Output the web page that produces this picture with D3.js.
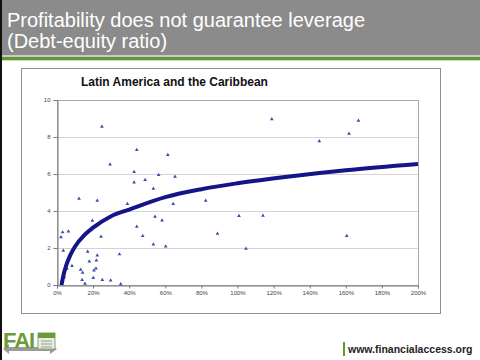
<!DOCTYPE html>
<html><head><meta charset="utf-8">
<script src="https://cdn.jsdelivr.net/npm/d3@7/dist/d3.min.js"></script>
<style>
html,body{margin:0;padding:0;background:#fff;}
svg{display:block;font-family:"Liberation Sans",Arial,sans-serif;}
</style></head>
<body>
<svg id="c" width="480" height="360"></svg>
<script>
// ---- data ----
const slideTitle = ["Profitability does not guarantee leverage", "(Debt-equity ratio)"];
const chartTitle = "Latin America and the Caribbean";
const footerText = "www.financialaccess.org";
const xTickValues = [0, 20, 40, 60, 80, 100, 120, 140, 160, 180, 200];
const xTickLabels = ["0%", "20%", "40%", "60%", "80%", "100%", "120%", "140%", "160%", "180%", "200%"];
const yTickValues = [0, 2, 4, 6, 8, 10];
// profitability (%) and debt-equity ratio of each institution
const pointX = [24.9, 44.2, 61.4, 29.4, 42.7, 56.3, 42.7, 48.8, 53.4, 65.4, 119, 167, 161.8, 145.3,
  12.2, 22.3, 39, 82.4, 64.4, 54.3, 58.2, 19.6, 44.2, 3.1, 6.3, 2.2, 24.4, 47.5, 88.9, 53.4, 60.2, 3.5,
  100.8, 114.1, 104.7, 160.5,
  17, 22.3, 34.6, 17.9, 21.8, 8.3, 5.5, 13.1, 14.2, 20.5, 21.6, 13.9, 20.1, 25.1, 29.7, 15.5, 35.3, 4];
const pointY = [8.56, 7.30, 7.03, 6.52, 6.11, 5.95, 5.55, 5.68, 5.21, 5.86, 8.96, 8.88, 8.18, 7.78,
  4.67, 4.56, 4.38, 4.56, 4.38, 3.69, 3.49, 3.48, 3.15, 2.85, 2.90, 2.58, 2.61, 2.65, 2.78, 2.2, 2.09, 1.86,
  3.73, 3.75, 1.96, 2.65,
  1.80, 1.60, 1.66, 1.28, 1.33, 1.03, 0.88, 0.83, 0.67, 0.79, 0.9, 0.27, 0.38, 0.27, 0.25, 0.07, 0.05, 0.42];
// trendline
const trendX = [2.5, 3.5, 5, 7.5, 10, 15, 20, 30, 40, 60, 80, 100, 130, 160, 200];
const trendY = [0, 0.5, 1.03, 1.64, 2.08, 2.68, 3.1, 3.72, 4.08, 4.75, 5.18, 5.5, 5.88, 6.2, 6.54];

// ---- drawing ----
const svg = d3.select("#c");
// header
svg.append("rect").attr("x",0).attr("y",0).attr("width",480).attr("height",55).attr("fill","#8b8b8b");
svg.append("rect").attr("x",0).attr("y",55).attr("width",480).attr("height",2).attr("fill","#c9c9c9");
svg.append("rect").attr("x",0).attr("y",57).attr("width",480).attr("height",3).attr("fill","#5f9a2c");
svg.append("rect").attr("x",0).attr("y",60).attr("width",480).attr("height",1).attr("fill","#cfe0bd");
svg.append("rect").attr("x",0).attr("y",0).attr("width",2).attr("height",360).attr("fill","#111");
svg.selectAll("text.st").data(slideTitle).join("text").attr("class","st")
  .attr("x",7).attr("y",(d,i)=>27+i*21).attr("fill","#fff").attr("font-size",20).text(d=>d);

// chart box
svg.append("rect").attr("x",21.5).attr("y",68.5).attr("width",419).attr("height",245)
  .attr("fill","#fff").attr("stroke","#8f8f8f");
svg.append("text").attr("x",81).attr("y",86).attr("font-size",12).attr("font-weight","bold")
  .attr("fill","#111").text(chartTitle);

const x = d3.scaleLinear().domain([0,200]).range([57,418]);
const y = d3.scaleLinear().domain([0,10]).range([285,100]);

// grid
svg.append("g").selectAll("line").data(yTickValues.filter(v=>v>0 && v<10)).join("line")
  .attr("x1",x(0)).attr("x2",x(200)).attr("y1",d=>y(d)+0.5).attr("y2",d=>y(d)+0.5)
  .attr("stroke","#d4d4d4");
// plot border
svg.append("rect").attr("x",x(0)+0.5).attr("y",y(10)+0.5).attr("width",x(200)-x(0)).attr("height",y(0)-y(10))
  .attr("fill","none").attr("stroke","#a8a8a8");

// axes
const xAxis = d3.axisBottom(x).tickValues(xTickValues).tickFormat((d,i)=>xTickLabels[i]).tickSize(3).tickPadding(2);
const gx = svg.append("g").attr("transform",`translate(0,${y(0)+0.5})`).call(xAxis);
const yAxis = d3.axisLeft(y).tickValues(yTickValues).tickSize(4).tickPadding(3);
const gy = svg.append("g").attr("transform",`translate(${x(0)+0.5},0)`).call(yAxis);
[gx,gy].forEach(g=>{
  g.select(".domain").attr("stroke","#7a7a7a");
  g.selectAll(".tick line").attr("stroke","#7a7a7a");
  g.selectAll(".tick text").attr("font-size",6).attr("fill","#444")
    .attr("font-family","'Liberation Sans',Arial,sans-serif");
});

// points
svg.append("g").selectAll("path").data(pointX.map((v,i)=>[v,pointY[i]])).join("path")
  .attr("d", d3.symbol(d3.symbolTriangle, 6))
  .attr("transform", d=>`translate(${x(d[0])},${y(d[1])})`)
  .attr("fill","#3b4fa6");

// trendline
svg.append("path").datum(trendX.map((v,i)=>[v,trendY[i]]))
  .attr("d", d3.line().x(d=>x(d[0])).y(d=>y(d[1])).curve(d3.curveMonotoneX))
  .attr("fill","none").attr("stroke","#15158a").attr("stroke-width",4).attr("stroke-linecap","butt");

// footer
svg.append("rect").attr("x",343).attr("y",342).attr("width",2).attr("height",14).attr("fill","#5f9a2c");
svg.append("text").attr("x",348).attr("y",353).attr("font-size",10.5).attr("font-weight","bold")
  .attr("fill","#222").text(footerText);
// logo
const logo = svg.append("g");
logo.append("path").attr("d","M3,349 L9,344 L9,347 L50,347 L50,344 L57,349 L50,354 L50,351 L9,351 L9,354 Z")
  .attr("fill","#9a9a9a");
logo.append("text").attr("x",3).attr("y",348).attr("font-size",22).attr("font-weight","bold")
  .attr("fill","#6b9b36").attr("letter-spacing",-1).text("FAI");
logo.append("rect").attr("x",38).attr("y",333).attr("width",17).attr("height",16).attr("fill","#e8eee0").attr("stroke","#8aa86a");
logo.append("rect").attr("x",38).attr("y",333).attr("width",17).attr("height",5).attr("fill","#6b9b36");
[341,344,347].forEach(yy=>logo.append("line").attr("x1",41).attr("x2",52).attr("y1",yy).attr("y2",yy).attr("stroke","#9a9a9a"));
</script>
</body></html>
